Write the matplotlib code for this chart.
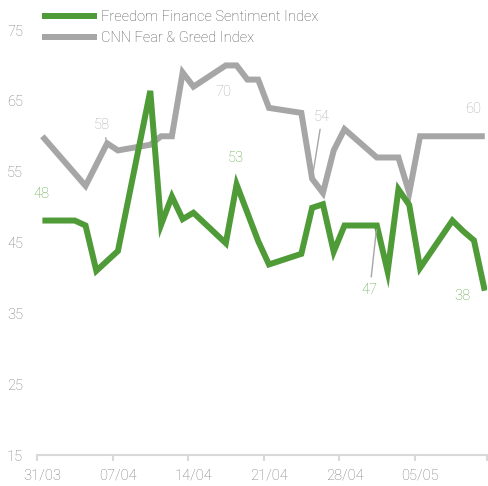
import pandas as pd
import numpy as np
import matplotlib
matplotlib.use('Agg')
import matplotlib.pyplot as plt
import matplotlib.dates as mdates

plt.rcParams['font.family'] = ['Roboto', 'DejaVu Sans']
plt.rcParams['font.weight'] = 'light'

# Freedom Finance Sentiment Index
ff_dates = ['2025-03-31', '2025-04-03', '2025-04-04', '2025-04-05', '2025-04-07',
            '2025-04-10', '2025-04-11', '2025-04-12', '2025-04-13', '2025-04-14',
            '2025-04-17', '2025-04-18', '2025-04-20', '2025-04-21', '2025-04-24',
            '2025-04-25', '2025-04-26', '2025-04-27', '2025-04-28', '2025-05-01',
            '2025-05-02', '2025-05-03', '2025-05-04', '2025-05-05', '2025-05-08',
            '2025-05-09', '2025-05-10', '2025-05-11']
ff_values = [48.1, 48.1, 47.4, 41.0, 43.8, 66.4, 47.5, 51.5, 48.3, 49.2,
             44.9, 53.2, 45.2, 41.9, 43.4, 49.9, 50.4, 43.7, 47.4, 47.4,
             40.9, 52.5, 50.3, 41.4, 48.1, 46.6, 45.3, 38.2]

# CNN Fear & Greed Index
cnn_dates = ['2025-03-31', '2025-04-04', '2025-04-06', '2025-04-07', '2025-04-10',
             '2025-04-11', '2025-04-12', '2025-04-13', '2025-04-14', '2025-04-17',
             '2025-04-18', '2025-04-19', '2025-04-20', '2025-04-21', '2025-04-24',
             '2025-04-25', '2025-04-26', '2025-04-27', '2025-04-28', '2025-05-01',
             '2025-05-03', '2025-05-04', '2025-05-05', '2025-05-11']
cnn_values = [60, 53, 59, 58, 58.8, 60, 60, 69, 67, 70,
              70, 68, 68, 64, 63.3, 54, 52, 58, 61, 57,
              57, 52, 60, 60]

week_labels = ['31/03', '07/04', '14/04', '21/04', '28/04', '05/05']
y_ticks = [15, 25, 35, 45, 55, 65, 75]

GREEN = '#4e9b38'
GREEN_TXT = '#62a94b'
GRAY = '#a6a6a6'
GRAY_TXT = '#adadad'
AXIS_TXT = '#7a7a7a'

noon = pd.Timedelta(hours=12)
ff_x = pd.to_datetime(ff_dates) + noon
cnn_x = pd.to_datetime(cnn_dates) + noon
week_x = pd.to_datetime(week_labels, format='%d/%m').map(lambda d: d.replace(year=2025))

fig = plt.figure(figsize=(4.88, 4.86), dpi=100)
ax = fig.add_axes([37 / 488, 31 / 486, 450 / 488, 425 / 486])

l_cnn, = ax.plot(cnn_x, cnn_values, color=GRAY, lw=4.3, solid_joinstyle='miter',
                 solid_capstyle='butt', label='CNN Fear & Greed Index')
l_ff, = ax.plot(ff_x, ff_values, color=GREEN, lw=4.3, solid_joinstyle='miter',
                solid_capstyle='butt', label='Freedom Finance Sentiment Index')

x_end = pd.Timestamp('2025-05-11 17:00')
ax.set_xlim(week_x[0], x_end)
ax.set_ylim(15, 75)

for s in ['top', 'right', 'left']:
    ax.spines[s].set_visible(False)
ax.spines['bottom'].set_color('#d9d9d9')
ax.spines['bottom'].set_linewidth(1.5)

ax.set_yticks(y_ticks)
ax.tick_params(axis='y', length=0, pad=10, labelsize=10.5, labelcolor=AXIS_TXT)

ax.set_xticks(list(week_x) + [x_end])
ax.set_xticklabels([''] * (len(week_x) + 1))
ax.set_xticks(week_x + noon, minor=True)
ax.set_xticklabels(week_labels, minor=True)
ax.tick_params(axis='x', which='major', length=4, width=1.5, color='#d9d9d9', direction='out')
ax.tick_params(axis='x', which='minor', length=0, pad=10, labelsize=10.5, labelcolor=AXIS_TXT)

# value labels: (x, y, text, dx, dy, color, leader) -- offsets in pixels
px = 0.72
notes = [
    (ff_x[0], ff_values[0], '48', -1, 27, GREEN_TXT, False),
    (cnn_x[2], cnn_values[2], '58', -5, 18, GRAY_TXT, True),
    (cnn_x[9], cnn_values[9], '70', -2, -27, GRAY_TXT, False),
    (ff_x[11], ff_values[11], '53', -1, 26, GREEN_TXT, False),
    (cnn_x[15], cnn_values[15], '54', 10, 62, GRAY_TXT, True),
    (ff_x[19], ff_values[19], '47', -7, -64, GREEN_TXT, True),
    (ff_x[-1], ff_values[-1], '38', -22, -5, GREEN_TXT, False),
    (cnn_x[-1], cnn_values[-1], '60', -12, 27, GRAY_TXT, False),
]
for x, y, t, dx, dy, c, leader in notes:
    arrow = dict(arrowstyle='-', color=GRAY, lw=1.0, shrinkA=2, shrinkB=3) if leader else None
    ax.annotate(t, (x, y), xytext=(dx * px, dy * px), textcoords='offset points',
                ha='center', va='center', fontsize=10.5, color=c, arrowprops=arrow)

ax.legend(handles=[l_ff, l_cnn], loc='upper left', bbox_to_anchor=(42 / 488, 1 - 10 / 486),
          bbox_transform=fig.transFigure, frameon=False, fontsize=10.5,
          handlelength=3.8, handletextpad=0.25, labelspacing=0.5,
          borderpad=0, borderaxespad=0, labelcolor='#555555')

fig.savefig('out.png', dpi=100)
